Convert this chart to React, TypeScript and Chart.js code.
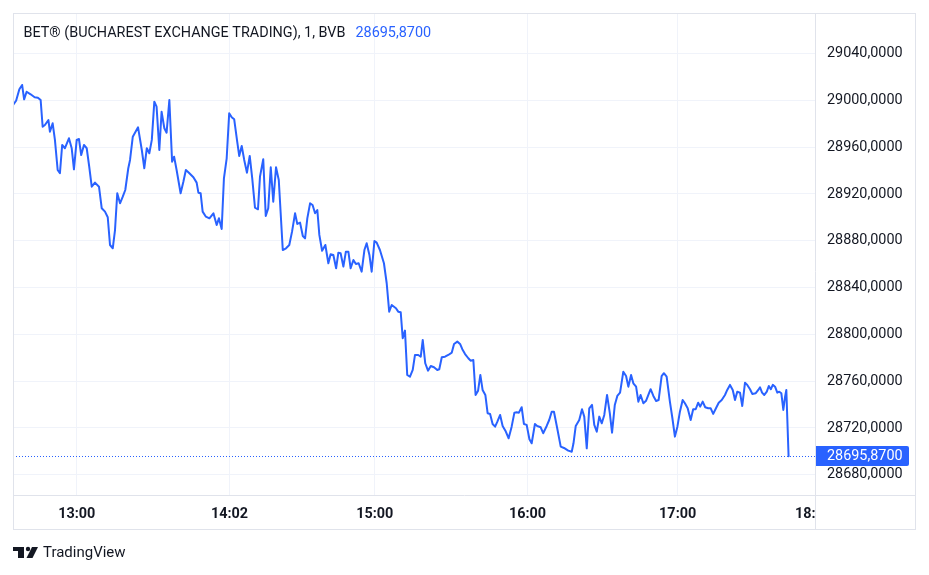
import React, { useEffect, useRef } from "react";
import { Chart, registerables } from "chart.js";

Chart.register(...registerables);

// ---- data ----
const titleText = "BET® (BUCHAREST EXCHANGE TRADING), 1, BVB";
const lastPrice = 28695.87;
const lastPriceLabel = "28695,8700";

// minutes after 12:00 (1-minute bars)
const barMinutes = [
  34.6, 35.8, 37.1, 38.2, 39.0, 40.0, 41.6, 43.2, 44.5, 45.6, 46.4, 47.3, 48.7, 49.3, 50.4, 51.3, 52.4, 53.3, 54.2, 55.3,
  56.9, 58.0, 58.9, 60.0, 60.9, 61.8, 62.9, 64.0, 65.0, 66.0, 67.3, 68.9, 70.0, 71.3, 72.4, 73.3, 74.4, 75.3, 76.2, 77.3,
  78.4, 79.4, 80.6, 81.3, 82.4, 84.5, 86.0, 87.0, 88.0, 89.0, 90.0, 91.0, 91.9, 93.0, 93.9, 95.0, 95.9, 97.0, 98.1, 98.9,
  99.9, 101.5, 102.6, 103.6, 104.8, 106.6, 107.9, 108.6, 109.5,
  110.3, 111.6, 113.0, 114.6, 115.9, 116.8, 117.9, 118.8, 119.9, 120.9, 121.9, 122.9, 124.1, 124.9, 125.9, 126.9, 128.0,
  129.1, 130.1, 131.2, 132.4, 133.2, 134.5, 135.5, 136.5, 137.5, 138.5, 139.6, 140.7, 142.3, 143.6, 144.9, 146.0, 147.2,
  148.1, 149.2, 150.3, 151.2, 152.1, 153.2, 154.2, 155.2, 156.1, 156.9, 158.0, 159.3, 160.5, 161.4, 162.5, 163.6, 164.5,
  165.4, 166.5, 167.5, 168.5, 169.4, 170.5, 171.5, 172.6, 173.8,
  174.9, 175.8, 176.9, 177.8, 178.9, 179.8, 181.1, 182.7, 183.8, 184.8, 185.8, 187.5, 188.4, 189.4, 190.2, 191.1, 192.0,
  193.1, 194.2, 195.1, 196.4, 197.4, 198.2, 199.2, 200.3, 201.4, 202.7, 204.0, 204.8, 205.8, 207.1, 208.4, 209.8, 210.7,
  212.0, 213.1, 214.0, 215.1, 216.4, 217.3, 218.4, 219.3, 220.3, 221.2, 222.1, 223.2, 224.1, 225.1, 226.1, 227.1, 228.0,
  229.1, 230.1, 231.2, 232.5, 233.7, 234.8, 235.7, 236.6, 237.7, 238.6, 239.7, 240.8, 241.7, 243.0, 243.9, 245.3, 246.3,
  247.7, 248.7, 249.7, 250.6, 251.9, 253.3,
  254.6, 256.3, 257.7, 258.4, 259.3, 260.7, 261.8, 262.7, 263.7, 264.7, 265.8, 266.7, 267.7, 268.7, 269.7, 270.7, 271.8,
  272.9, 273.8, 274.9, 275.9, 277.0, 278.3, 279.4, 280.3, 281.4, 282.3, 283.4, 284.3, 285.2, 286.3, 287.4, 288.3, 289.2,
  290.3, 291.4, 292.4, 293.6, 294.5, 295.6, 296.9, 297.9, 298.9, 299.9, 300.9, 302.0, 302.9, 304.0, 305.2, 306.2, 307.2,
  308.2, 309.0, 310.0, 311.0, 312.2, 313.2, 314.2, 315.3, 316.4, 317.6, 318.9, 319.8, 320.9, 322.0, 322.9, 323.8, 324.9,
  325.8, 326.9, 327.8, 328.9, 329.8, 331.2, 332.2, 332.9, 333.7, 334.6, 335.6, 336.4, 337.2, 338.0, 338.9, 339.8, 340.6,
  341.4, 342.2, 342.9, 343.4, 344.3,
];

const betValues = [
  28996.1, 28999.7, 29009.5, 29013.2, 29000.9, 29007.4, 29005.2, 29002.7, 29002.3, 29000.3, 28977.5, 28979.0, 28983.2,
  28973.2, 28980.4, 28966.2, 28940.5, 28937.7, 28961.9, 28959.1, 28967.6, 28959.1, 28941.1, 28966.2, 28967.0, 28953.3,
  28961.9, 28959.1, 28943.3, 28926.2, 28929.7, 28926.2, 28907.8, 28904.9, 28900.1, 28876.4, 28873.6, 28889.2, 28920.6,
  28912.0, 28917.7, 28923.4, 28942.0, 28949.1, 28969.0, 28977.0, 28957.6, 28942.0, 28959.1, 28954.8, 28966.2, 28998.9,
  28994.6, 28957.6, 28990.3, 28976.2, 28972.4, 29000.3, 28947.6, 28951.9, 28940.5, 28920.6, 28930.5, 28940.5, 28938.2,
  28934.3, 28929.7, 28921.1, 28920.6,
  28904.9, 28900.6, 28899.2, 28903.5, 28893.5, 28899.2, 28890.1, 28933.4, 28950.5, 28989.0, 28985.6, 28983.8, 28964.7,
  28952.5, 28961.0, 28949.1, 28938.2, 28952.5, 28933.4, 28908.3, 28906.9, 28934.8, 28949.7, 28901.2, 28907.8, 28942.8,
  28913.4, 28942.8, 28932.0, 28872.1, 28873.6, 28876.4, 28887.8, 28903.5, 28894.4, 28895.5, 28884.1, 28882.1, 28899.2,
  28912.0, 28910.6, 28903.5, 28906.3, 28885.0, 28871.5, 28876.4, 28860.8, 28868.5, 28867.9, 28856.5, 28869.8, 28869.3,
  28857.9, 28870.7, 28870.7, 28856.5, 28863.6, 28860.2, 28860.8, 28853.6,
  28872.1, 28877.9, 28867.9, 28853.6, 28879.8, 28878.4, 28872.1, 28860.8, 28843.7, 28819.4, 28825.1, 28822.3, 28819.4,
  28818.9, 28796.7, 28803.2, 28765.3, 28763.8, 28769.6, 28782.4, 28782.4, 28780.9, 28795.2, 28775.3, 28769.0, 28773.0,
  28771.9, 28769.6, 28770.2, 28780.4, 28780.9, 28782.4, 28784.4, 28791.8, 28793.8, 28791.8, 28787.3, 28783.2, 28779.6,
  28777.5, 28778.1, 28748.2, 28751.9, 28765.3, 28752.5, 28748.2, 28732.6, 28732.0, 28723.4, 28721.1, 28725.4, 28731.1,
  28721.7, 28717.7, 28711.2, 28721.1, 28733.1, 28733.4, 28733.1, 28737.7, 28723.4, 28722.6, 28710.3, 28706.9, 28723.4,
  28721.7, 28720.6, 28715.5, 28721.7, 28726.8, 28733.9, 28733.9, 28719.7, 28704.0,
  28702.9, 28700.6, 28699.7, 28706.9, 28721.7, 28726.8, 28736.0, 28729.7, 28702.6, 28736.8, 28739.7, 28722.6, 28716.8,
  28729.7, 28724.0, 28731.1, 28748.2, 28732.6, 28716.0, 28739.7, 28747.4, 28750.2, 28768.1, 28764.4, 28755.3, 28765.3,
  28758.2, 28755.3, 28742.5, 28748.2, 28741.1, 28743.3, 28748.2, 28753.1, 28747.4, 28743.1, 28743.9, 28764.4, 28766.8,
  28763.8, 28742.5, 28728.3, 28712.6, 28721.1, 28733.9, 28743.9, 28741.1, 28736.8, 28726.8, 28736.0, 28736.0, 28741.6,
  28738.2, 28742.5, 28737.7, 28736.8, 28736.8, 28732.0, 28736.8, 28741.6, 28743.9, 28748.2, 28752.5, 28756.8, 28752.5,
  28743.9, 28751.0, 28750.2, 28738.8, 28758.7, 28756.8, 28753.1, 28749.1, 28749.7, 28752.5, 28754.8, 28750.2, 28748.2,
  28751.0, 28755.9, 28753.1, 28756.8, 28755.3, 28750.2, 28751.0, 28749.7, 28735.4, 28746.8, 28752.5, 28695.87,
];

const yTickValues = [28680, 28720, 28760, 28800, 28840, 28880, 28920, 28960, 29000, 29040];
const xTickValues = [60, 121, 179, 240, 300, 351];
const xTickLabels = ["13:00", "14:02", "15:00", "16:00", "17:00", "18:"];

const X_MIN = 34.56;
const X_MAX = 354.85;
const Y_MIN = 28662.7;
const Y_MAX = 29074.7;

const BLUE = "#2962ff";
const TEXT = "#131722";
const FONT = "Roboto";
const FS = 14.4;

const fmt = (v: number) => v.toFixed(4).replace(".", ",");

const extras = {
  id: "tvExtras",
  beforeDatasetsDraw(chart: any) {
    const { ctx, chartArea, scales } = chart;
    const py = Math.round(scales.y.getPixelForValue(lastPrice)) + 0.5;
    ctx.save();
    ctx.strokeStyle = BLUE;
    ctx.lineWidth = 1;
    ctx.setLineDash([1, 2]);
    ctx.beginPath();
    ctx.moveTo(chartArea.left, py);
    ctx.lineTo(chartArea.right, py);
    ctx.stroke();
    ctx.restore();
  },
  afterDraw(chart: any) {
    const { ctx, chartArea, scales } = chart;
    ctx.save();
    // frame
    ctx.strokeStyle = "#e0e3eb";
    ctx.lineWidth = 1;
    ctx.strokeRect(13.5, 13.5, 902, 516);
    ctx.beginPath();
    ctx.moveTo(chartArea.right + 0.5, 13);
    ctx.lineTo(chartArea.right + 0.5, 530);
    ctx.moveTo(13, chartArea.bottom + 0.5);
    ctx.lineTo(916, chartArea.bottom + 0.5);
    ctx.stroke();

    // last price label
    const py = scales.y.getPixelForValue(lastPrice);
    ctx.fillStyle = BLUE;
    const bx = chartArea.right + 1;
    const bw = 93;
    const bh = 20;
    ctx.beginPath();
    (ctx as any).roundRect(bx, Math.round(py - bh / 2), bw, bh, [0, 2, 2, 0]);
    ctx.fill();
    ctx.fillStyle = "#ffffff";
    ctx.font = `${FS}px ${FONT}`;
    ctx.textBaseline = "middle";
    ctx.textAlign = "left";
    ctx.fillText(lastPriceLabel, chartArea.right + 12, py + 0.5);

    // header
    ctx.font = `${FS}px ${FONT}`;
    ctx.fillStyle = TEXT;
    ctx.fillText(titleText, 23.5, 33);
    const w = ctx.measureText(titleText).width;
    ctx.fillStyle = BLUE;
    ctx.fillText(lastPriceLabel, 23.5 + w + 10, 33);

    // logo
    ctx.fillStyle = TEXT;
    ctx.fillRect(13, 547, 11, 4);
    ctx.fillRect(18, 547, 6, 11);
    ctx.beginPath();
    ctx.arc(28, 549, 2.2, 0, Math.PI * 2);
    ctx.fill();
    ctx.beginPath();
    ctx.moveTo(32, 547);
    ctx.lineTo(38, 547);
    ctx.lineTo(32.5, 558);
    ctx.lineTo(26.5, 558);
    ctx.closePath();
    ctx.fill();
    ctx.font = `15px ${FONT}`;
    ctx.textBaseline = "middle";
    ctx.fillText("TradingView", 43, 553);
    ctx.restore();
  },
};

export default function App() {
  const ref = useRef<HTMLCanvasElement | null>(null);
  useEffect(() => {
    if (!ref.current) return;
    const data = barMinutes.map((m, i) => ({ x: m, y: betValues[i] }));
    const chart = new Chart(ref.current, {
      type: "line",
      data: {
        datasets: [
          {
            data,
            borderColor: BLUE,
            borderWidth: 2,
            pointRadius: 0,
            tension: 0,
            borderJoinStyle: "round",
            borderCapStyle: "round",
            fill: false,
          },
        ],
      },
      options: {
        responsive: false,
        animation: false,
        events: [],
        layout: { autoPadding: false, padding: { left: 13, top: 13, right: 13, bottom: 45 } },
        plugins: { legend: { display: false }, tooltip: { enabled: false }, title: { display: false } },
        scales: {
          x: {
            type: "linear",
            min: X_MIN,
            max: X_MAX,
            afterFit: (s: any) => {
              s.height = 35;
            },
            afterBuildTicks: (s: any) => {
              s.ticks = xTickValues.map((v) => ({ value: v }));
            },
            grid: {
              color: (c: any) => (c.index === xTickValues.length - 1 ? "rgba(0,0,0,0)" : "#f0f3fa"),
              drawTicks: true,
              tickLength: 11,
              tickColor: "rgba(0,0,0,0)",
            },
            border: { display: false },
            ticks: {
              autoSkip: false,
              maxRotation: 0,
              padding: 0,
              color: TEXT,
              font: { family: FONT, size: FS, weight: "bold" },
              callback: (v: any) => {
                const i = xTickValues.indexOf(Number(v));
                return i >= 0 ? xTickLabels[i] : "";
              },
            },
          },
          y: {
            type: "linear",
            position: "right",
            min: Y_MIN,
            max: Y_MAX,
            afterFit: (s: any) => {
              s.width = 101;
            },
            afterBuildTicks: (s: any) => {
              s.ticks = yTickValues.map((v) => ({ value: v }));
            },
            grid: { color: "#f0f3fa", drawTicks: true, tickLength: 12, tickColor: "rgba(0,0,0,0)" },
            border: { display: false },
            ticks: {
              padding: 0,
              color: TEXT,
              font: { family: FONT, size: FS },
              callback: (v: any) => fmt(Number(v)),
            },
          },
        },
      },
      plugins: [extras],
    });
    return () => chart.destroy();
  }, []);
  return (
    <div style={{ position: "fixed", left: 0, top: 0, width: 929, height: 575, background: "#fff" }}>
      <canvas ref={ref} width={929} height={575} style={{ display: "block" }} />
    </div>
  );
}
